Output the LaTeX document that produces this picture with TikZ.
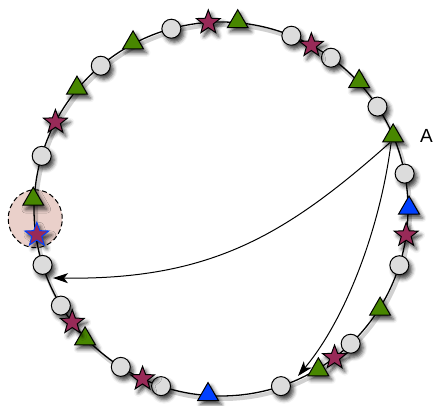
\documentclass[tikz,border=0pt]{standalone}
\usepackage{fontspec}
\setmainfont{Liberation Sans}
\usetikzlibrary{shapes.geometric, arrows.meta, positioning, shadows.blur}

\definecolor{peergray}{RGB}{220,220,220}
\definecolor{leafgreen}{RGB}{72,135,0}
\definecolor{plum}{RGB}{152,42,88}
\definecolor{keyblue}{RGB}{0,64,255}
\definecolor{blush}{RGB}{234,208,202}

\tikzset{
    soft/.style={blur shadow={shadow xshift=3pt, shadow yshift=-4pt,
                 shadow blur radius=4pt, shadow opacity=75}},
    peer/.style={circle, draw, fill=peergray, line width=1pt,
                 minimum size=19pt, inner sep=0pt, soft},
    tri/.style={regular polygon, regular polygon sides=3, draw, fill=leafgreen,
                line width=1pt, minimum size=24pt, inner sep=0pt, soft},
    bluetri/.style={tri, fill=keyblue},
    starnode/.style={star, star points=5, star point ratio=2.4, draw, fill=plum,
                     line width=1pt, minimum size=25pt, inner sep=0pt, soft},
    link/.style={line width=1pt, -{Stealth[length=15pt, width=10pt, inset=4pt]}}
}

\begin{document}
\begin{tikzpicture}[x=1pt, y=1pt]
    \useasboundingbox (0,0) rectangle (433,406);
    \coordinate (o) at (221,197);

    \node[ellipse, draw, dash pattern=on 5pt off 3pt, line width=1pt, fill=blush,
          minimum width=54pt, minimum height=58pt]
        (zone) at ([shift={(-177:186)}]o) {};

    \draw[line width=4pt, black, opacity=0.18] ([shift={(2,-3)}]o) circle[radius=187];
    \draw[line width=1.3pt] (o) circle[radius=187];

    \foreach \a [count=\i] in {105.4, 67.9, 54.0, 33.2, 10.9, -17.5, -46.1,
                               -71.3, -108.7, -122.4, -148.9, -162.6, 163.5, 130}
        \node[peer] (c\i) at ([shift={(\a:187)}]o) {};

    \foreach \a [count=\i] in {84.9, 42.7, -32.2, -58.8, -136.3, 177, 140, 117.9}
        \node[tri] (t\i) at ([shift={(\a:188)}]o) {};
    \node[tri] (tA) at ([shift={(23:187)}]o) {};

    \node[bluetri] (b1) at ([shift={(0.3:188)}]o) {};
    \node[bluetri] (b2) at ([shift={(-94:186)}]o) {};

    \foreach \a [count=\i] in {93.9, 61.1, -8.0, -52.6, -114.8, -142.7, 152.3}
        \node[starnode] (s\i) at ([shift={(\a:187)}]o) {};
    \node[starnode, draw=keyblue] (sB) at ([shift={(-172:186)}]o) {};

    \node[font=\fontsize{19}{21}\selectfont, right=16pt of tA] (lblA) {A};

    \coordinate (e1) at (53,128);
    \coordinate (e2) at (298,30);
    \draw[link] ([xshift=-3pt]tA.south) .. controls (285,170) and (210,126) .. (e1);
    \draw[link] ([xshift=-2pt]tA.south) .. controls (380,176) and (345,86) .. (e2);
\end{tikzpicture}
\end{document}
